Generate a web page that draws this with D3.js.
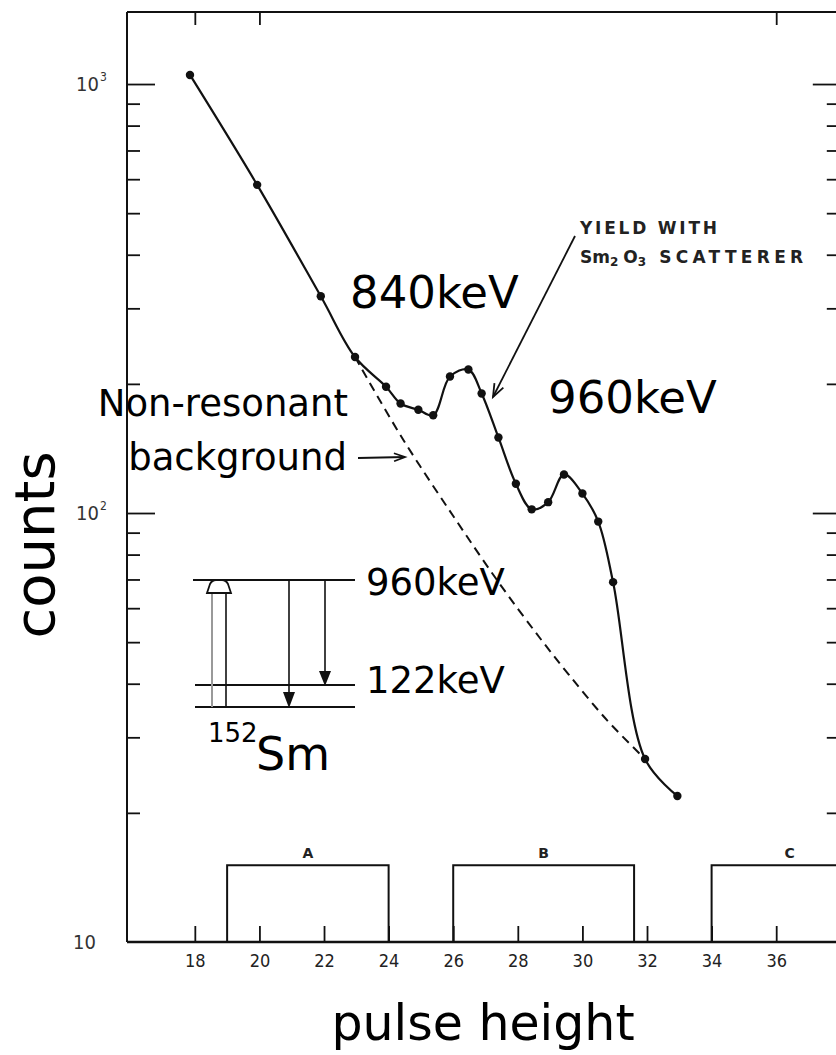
<!DOCTYPE html>
<html><head><meta charset="utf-8">
<script src="https://cdn.jsdelivr.net/npm/d3@7"></script>
<style>html,body{margin:0;padding:0;background:#fff;}svg{display:block;}</style>
</head><body>
<script>
// ---- data ----
const xTicks = [18, 20, 22, 24, 26, 28, 30, 32, 34, 36];
const topTicks = [18, 20, 36];
const yMajor = [10, 100, 1000];
const yMajorExp = ["", "2", "3"];
const yMinor = [20, 30, 40, 50, 60, 70, 80, 90, 200, 300, 400, 500, 600, 700, 800, 900];
const pulse = [17.85, 19.93, 21.9, 22.96, 23.92, 24.37, 24.92, 25.38, 25.9, 26.47, 26.88, 27.4, 27.94, 28.43, 28.94, 29.43, 30.0, 30.49, 30.95, 31.94, 32.94];
const counts = [1050, 582, 320, 231, 197, 180, 174, 169, 208, 216, 190, 150, 117, 102, 106, 123, 111, 95.5, 69, 26.7, 21.9];
const bgPulse = [22.96, 24.41, 26.0, 27.42, 28.66, 29.59, 30.76, 31.94];
const bgCounts = [231, 150, 98.4, 68.7, 51.4, 41.9, 32.9, 26.7];
const boxNames = ["A", "B", "C"];
const boxStart = [19, 26, 34];
const boxEnd = [24, 31.6, 38];
const boxTop = 15.1;

const W = 836, H = 1055;
const svg = d3.select("body").append("svg").attr("width", W).attr("height", H);

const x = d3.scaleLinear().domain([15.9, 38]).range([127, 840.8]);
const y = d3.scaleLog().domain([10, 1472]).range([942, 12]);

const ink = "#111";
const smallFont = "'DejaVu Sans Condensed', 'DejaVu Sans'";
const bigFont = "'DejaVu Sans'";

// frame
const g = svg.append("g");
g.append("line").attr("x1", x(15.9)).attr("x2", x(15.9)).attr("y1", 12).attr("y2", 942).attr("stroke", ink).attr("stroke-width", 2);
g.append("line").attr("x1", x(15.9)).attr("x2", x(38)).attr("y1", 942).attr("y2", 942).attr("stroke", ink).attr("stroke-width", 2.4);
g.append("line").attr("x1", x(15.9)).attr("x2", x(38)).attr("y1", 12).attr("y2", 12).attr("stroke", ink).attr("stroke-width", 2);

// bottom axis
const bx = svg.append("g").attr("transform", "translate(0,942)")
  .call(d3.axisBottom(x).tickValues(xTicks).tickSize(-16).tickPadding(12));
bx.select(".domain").remove();
bx.selectAll(".tick line").attr("stroke", ink).attr("stroke-width", 1.8);
bx.selectAll(".tick text").attr("font-family", smallFont).attr("font-size", 18).attr("fill", "#222");

// top ticks
const tx = svg.append("g").attr("transform", "translate(0,12)")
  .call(d3.axisTop(x).tickValues(topTicks).tickSize(-13).tickFormat(""));
tx.select(".domain").remove();
tx.selectAll(".tick line").attr("stroke", ink).attr("stroke-width", 1.8);

// left axis
const lMin = svg.append("g").attr("transform", `translate(${x(15.9)},0)`)
  .call(d3.axisLeft(y).tickValues(yMinor).tickSize(-13).tickFormat(""));
lMin.select(".domain").remove();
lMin.selectAll(".tick line").attr("stroke", ink).attr("stroke-width", 1.8);
const lMaj = svg.append("g").attr("transform", `translate(${x(15.9)},0)`)
  .call(d3.axisLeft(y).tickValues(yMajor.slice(1)).tickSize(-28).tickFormat(""));
lMaj.select(".domain").remove();
lMaj.selectAll(".tick line").attr("stroke", ink).attr("stroke-width", 1.8);

// right axis
const rMin = svg.append("g").attr("transform", `translate(${x(38)},0)`)
  .call(d3.axisRight(y).tickValues(yMinor).tickSize(-14).tickFormat(""));
rMin.select(".domain").remove();
rMin.selectAll(".tick line").attr("stroke", ink).attr("stroke-width", 1.8);
const rMaj = svg.append("g").attr("transform", `translate(${x(38)},0)`)
  .call(d3.axisRight(y).tickValues(yMajor.slice(1)).tickSize(-28).tickFormat(""));
rMaj.select(".domain").remove();
rMaj.selectAll(".tick line").attr("stroke", ink).attr("stroke-width", 1.8);

// y labels
yMajor.forEach((v, i) => {
  svg.append("text").attr("x", yMajorExp[i] ? 99 : 96).attr("y", y(v) + 7)
    .attr("text-anchor", "end").attr("font-family", smallFont)
    .attr("font-size", 20).attr("fill", "#333").text("10");
  if (yMajorExp[i]) {
    svg.append("text").attr("x", 100).attr("y", y(v) - 3)
      .attr("font-family", smallFont).attr("font-size", 12).attr("fill", "#333").text(yMajorExp[i]);
  }
});

// boxes A B C
boxNames.forEach((n, i) => {
  const x0 = x(boxStart[i]), x1 = x(boxEnd[i]), yt = y(boxTop), yb = y(10);
  svg.append("path").attr("d", `M${x0},${yb}V${yt}H${x1}V${yb}`).attr("fill", "none").attr("stroke", ink).attr("stroke-width", 2);
  const cx = i < 2 ? (x0 + x1) / 2 : x0 + 78;
  svg.append("text").attr("x", cx).attr("y", yt - 7).attr("text-anchor", "middle")
    .attr("font-family", bigFont).attr("font-weight", "bold").attr("font-size", 14).attr("fill", "#222").text(n);
});

// background dashed curve
const bgData = bgPulse.map((p, i) => [p, bgCounts[i]]);
svg.append("path").datum(bgData)
  .attr("d", d3.line().x(d => x(d[0])).y(d => y(d[1])).curve(d3.curveCatmullRom.alpha(0.5)))
  .attr("fill", "none").attr("stroke", ink).attr("stroke-width", 2).attr("stroke-dasharray", "9,6");

// yield curve
const data = pulse.map((p, i) => [p, counts[i]]);
svg.append("path").datum(data)
  .attr("d", d3.line().x(d => x(d[0])).y(d => y(d[1])).curve(d3.curveCatmullRom.alpha(0.5)))
  .attr("fill", "none").attr("stroke", ink).attr("stroke-width", 2.2);
svg.selectAll("circle.pt").data(data).enter().append("circle")
  .attr("cx", d => x(d[0])).attr("cy", d => y(d[1])).attr("r", 4.2).attr("fill", ink);

// arrows
function arrow(x1, y1, x2, y2, len, wid) {
  svg.append("line").attr("x1", x1).attr("y1", y1).attr("x2", x2).attr("y2", y2).attr("stroke", ink).attr("stroke-width", 1.8);
  const a = Math.atan2(y2 - y1, x2 - x1);
  const p1 = [x2 - len * Math.cos(a) + wid * Math.sin(a), y2 - len * Math.sin(a) - wid * Math.cos(a)];
  const p2 = [x2 - len * Math.cos(a) - wid * Math.sin(a), y2 - len * Math.sin(a) + wid * Math.cos(a)];
  svg.append("path").attr("d", `M${p1}L${x2},${y2}L${p2}`).attr("fill", "none").attr("stroke", ink).attr("stroke-width", 1.8);
}
arrow(575, 236, 493, 397, 13, 5);
arrow(358, 458, 405, 457, 11, 4);

// annotation texts
svg.append("text").attr("x", 580).attr("y", 234).attr("font-family", bigFont).attr("font-weight", "bold").attr("font-size", 17)
  .attr("fill", "#222").attr("textLength", 137).attr("lengthAdjust", "spacing").text("YIELD WITH");
const t2 = svg.append("text").attr("x", 580).attr("y", 263).attr("font-family", bigFont).attr("font-weight", "bold").attr("font-size", 17).attr("fill", "#222");
t2.append("tspan").text("Sm");
t2.append("tspan").attr("font-size", 12).attr("dy", 3).text("2");
t2.append("tspan").attr("dy", -3).attr("dx", 5).text("O");
t2.append("tspan").attr("font-size", 12).attr("dy", 3).text("3");
t2.append("tspan").attr("dy", -3).attr("dx", 13).attr("textLength", 144).attr("lengthAdjust", "spacing").text("SCATTERER");

svg.append("text").attr("x", 350).attr("y", 308).attr("font-family", bigFont).attr("font-size", 45).attr("fill", "#000").text("840keV");
svg.append("text").attr("x", 548).attr("y", 413).attr("font-family", bigFont).attr("font-size", 45).attr("fill", "#000").text("960keV");
svg.append("text").attr("x", 348).attr("y", 416).attr("text-anchor", "end").attr("font-family", bigFont).attr("font-size", 37).attr("fill", "#000").text("Non-resonant");
svg.append("text").attr("x", 347).attr("y", 470).attr("text-anchor", "end").attr("font-family", bigFont).attr("font-size", 37).attr("fill", "#000").text("background");

// level diagram
const lv = svg.append("g");
lv.append("line").attr("x1", 193).attr("x2", 355).attr("y1", 580).attr("y2", 580).attr("stroke", ink).attr("stroke-width", 2);
lv.append("line").attr("x1", 195).attr("x2", 355).attr("y1", 685).attr("y2", 685).attr("stroke", ink).attr("stroke-width", 2);
lv.append("line").attr("x1", 195).attr("x2", 355).attr("y1", 707).attr("y2", 707).attr("stroke", ink).attr("stroke-width", 2);
lv.append("line").attr("x1", 212).attr("x2", 212).attr("y1", 707).attr("y2", 592).attr("stroke", "#999").attr("stroke-width", 2);
lv.append("line").attr("x1", 226).attr("x2", 226).attr("y1", 707).attr("y2", 592).attr("stroke", ink).attr("stroke-width", 1.6);
lv.append("path").attr("d", "M207,593L210,584Q212,580 216,580L222,580Q226,580 228,584L231,593Z").attr("fill", "#fff").attr("stroke", ink).attr("stroke-width", 1.8);
lv.append("line").attr("x1", 289).attr("x2", 289).attr("y1", 580).attr("y2", 693).attr("stroke", ink).attr("stroke-width", 1.6);
lv.append("path").attr("d", "M283,692L295,692L289,708Z").attr("fill", ink);
lv.append("line").attr("x1", 325).attr("x2", 325).attr("y1", 580).attr("y2", 672).attr("stroke", ink).attr("stroke-width", 1.6);
lv.append("path").attr("d", "M319,671L331,671L325,686Z").attr("fill", ink);
svg.append("text").attr("x", 366).attr("y", 595).attr("font-family", bigFont).attr("font-size", 37).attr("fill", "#000").text("960keV");
svg.append("text").attr("x", 366).attr("y", 693).attr("font-family", bigFont).attr("font-size", 37).attr("fill", "#000").text("122keV");
svg.append("text").attr("x", 208).attr("y", 742).attr("font-family", bigFont).attr("font-size", 26).attr("fill", "#000").text("152");
svg.append("text").attr("x", 256).attr("y", 770).attr("font-family", bigFont).attr("font-size", 46).attr("fill", "#000").text("Sm");

// axis titles
svg.append("text").attr("transform", "translate(54,545) rotate(-90)").attr("text-anchor", "middle")
  .attr("font-family", bigFont).attr("font-size", 56).attr("fill", "#000").text("counts");
svg.append("text").attr("x", 483).attr("y", 1040).attr("text-anchor", "middle")
  .attr("font-family", bigFont).attr("font-size", 49).attr("fill", "#000").text("pulse height");
</script>
</body></html>
